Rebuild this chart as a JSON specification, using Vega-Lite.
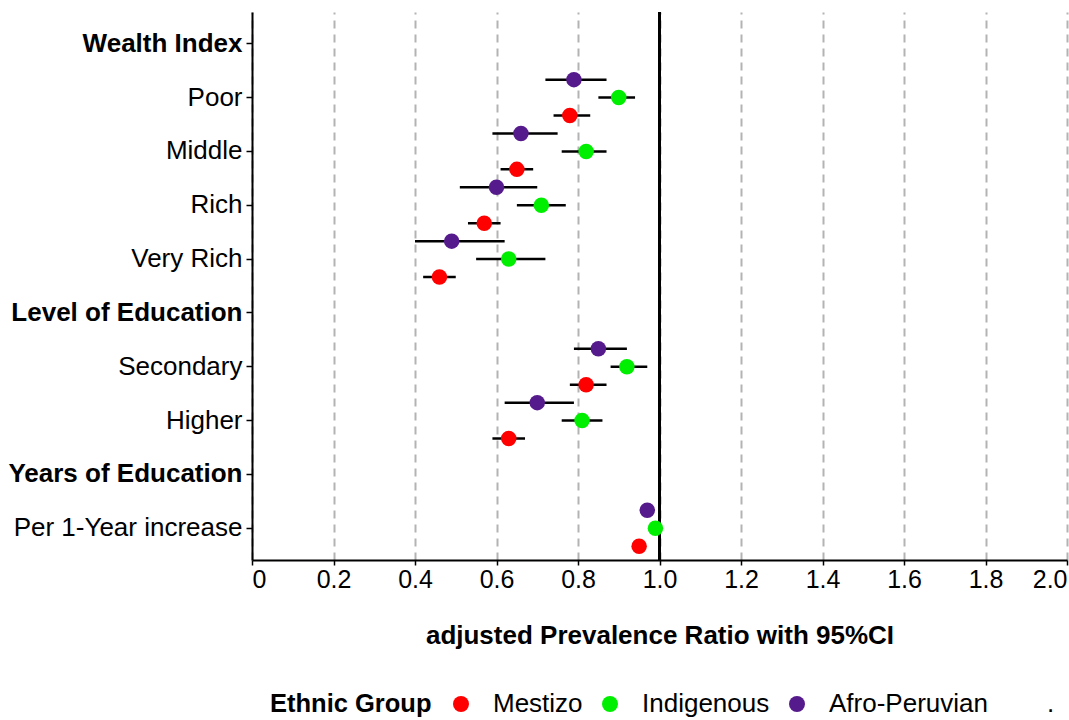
{
  "$schema": "https://vega.github.io/schema/vega-lite/v6.json",
  "width": 815,
  "height": 548,
  "autosize": {"type": "none"},
  "padding": {"left": 252, "top": 12, "right": 2, "bottom": 160},
  "background": "white",
  "config": {"view": {"stroke": null}, "font": "Liberation Sans"},
  "data": {"values": [
    {"var": "Poor", "group": "Afro-Peruvian", "pr": 0.79, "lo": 0.72, "hi": 0.87},
    {"var": "Poor", "group": "Indigenous", "pr": 0.90, "lo": 0.85, "hi": 0.94},
    {"var": "Poor", "group": "Mestizo", "pr": 0.78, "lo": 0.74, "hi": 0.83},
    {"var": "Middle", "group": "Afro-Peruvian", "pr": 0.66, "lo": 0.59, "hi": 0.75},
    {"var": "Middle", "group": "Indigenous", "pr": 0.82, "lo": 0.76, "hi": 0.87},
    {"var": "Middle", "group": "Mestizo", "pr": 0.65, "lo": 0.61, "hi": 0.69},
    {"var": "Rich", "group": "Afro-Peruvian", "pr": 0.60, "lo": 0.51, "hi": 0.70},
    {"var": "Rich", "group": "Indigenous", "pr": 0.71, "lo": 0.65, "hi": 0.77},
    {"var": "Rich", "group": "Mestizo", "pr": 0.57, "lo": 0.53, "hi": 0.61},
    {"var": "Very Rich", "group": "Afro-Peruvian", "pr": 0.49, "lo": 0.40, "hi": 0.62},
    {"var": "Very Rich", "group": "Indigenous", "pr": 0.63, "lo": 0.55, "hi": 0.72},
    {"var": "Very Rich", "group": "Mestizo", "pr": 0.46, "lo": 0.42, "hi": 0.50},
    {"var": "Secondary", "group": "Afro-Peruvian", "pr": 0.85, "lo": 0.79, "hi": 0.92},
    {"var": "Secondary", "group": "Indigenous", "pr": 0.92, "lo": 0.88, "hi": 0.97},
    {"var": "Secondary", "group": "Mestizo", "pr": 0.82, "lo": 0.78, "hi": 0.87},
    {"var": "Higher", "group": "Afro-Peruvian", "pr": 0.70, "lo": 0.62, "hi": 0.79},
    {"var": "Higher", "group": "Indigenous", "pr": 0.81, "lo": 0.76, "hi": 0.86},
    {"var": "Higher", "group": "Mestizo", "pr": 0.63, "lo": 0.59, "hi": 0.67},
    {"var": "Per 1-Year increase", "group": "Afro-Peruvian", "pr": 0.97, "lo": 0.96, "hi": 0.98},
    {"var": "Per 1-Year increase", "group": "Indigenous", "pr": 0.99, "lo": 0.98, "hi": 1.00},
    {"var": "Per 1-Year increase", "group": "Mestizo", "pr": 0.95, "lo": 0.94, "hi": 0.96}
  ]},
  "layer": [
    {
      "mark": {"type": "rule", "color": "black", "strokeWidth": 2},
      "encoding": {
        "x": {"datum": 1, "type": "quantitative", "title": "adjusted Prevalence Ratio with 95%CI"}
      }
    },
    {
      "mark": {"type": "rule", "color": "black", "strokeWidth": 2.5},
      "encoding": {
        "x": {"field": "lo", "type": "quantitative", "title": "adjusted Prevalence Ratio with 95%CI"},
        "x2": {"field": "hi"},
        "y": {"field": "var", "type": "nominal", "title": null},
        "yOffset": {"field": "group", "type": "nominal", "scale": {"domain": ["Afro-Peruvian", "Indigenous", "Mestizo"]}}
      }
    },
    {
      "mark": {"type": "point", "filled": true, "opacity": 1, "size": 240, "shape": "circle"},
      "encoding": {
        "x": {
          "field": "pr", "type": "quantitative",
          "title": "adjusted Prevalence Ratio with 95%CI",
          "scale": {"domain": [0, 2], "nice": false, "zero": false},
          "axis": {
            "values": [0, 0.2, 0.4, 0.6, 0.8, 1.0, 1.2, 1.4, 1.6, 1.8, 2.0],
            "labelExpr": "datum.value == 0 ? '0' : format(datum.value, '.1f')",
            "grid": true, "gridDash": [8, 6], "gridColor": "#b3b3b3", "gridWidth": 2,
            "domainColor": "black", "domainWidth": 2,
            "tickColor": "black", "tickWidth": 1.5, "tickSize": 5,
            "labelFontSize": 25, "labelColor": "black", "labelPadding": 2,
            "titleFontSize": 26, "titleFontWeight": "bold", "titleColor": "black", "titlePadding": 30
          }
        },
        "y": {
          "field": "var", "type": "nominal", "title": null,
          "scale": {
            "domain": ["Wealth Index", "Poor", "Middle", "Rich", "Very Rich", "Level of Education", "Secondary", "Higher", "Years of Education", "Per 1-Year increase"],
            "paddingInner": 0, "paddingOuter": 0.09
          },
          "axis": {
            "domainColor": "black", "domainWidth": 2,
            "tickColor": "black", "tickWidth": 1.5, "tickSize": 6,
            "labelFontSize": 26, "labelColor": "black", "labelPadding": 4, "labelLimit": 400,
            "labelFontWeight": {"condition": {"test": "indexof(['Wealth Index','Level of Education','Years of Education'], datum.value) >= 0", "value": "bold"}, "value": "normal"},
            "grid": false
          }
        },
        "yOffset": {"field": "group", "type": "nominal", "scale": {"domain": ["Afro-Peruvian", "Indigenous", "Mestizo"]}},
        "color": {
          "field": "group", "type": "nominal",
          "scale": {"domain": ["Mestizo", "Indigenous", "Afro-Peruvian", "."], "range": ["#FF0000", "#00EE00", "#551A8B", "#FFFFFF"]},
          "legend": {
            "orient": "none", "legendX": 18, "legendY": 679, "direction": "horizontal",
            "title": "Ethnic Group", "titleOrient": "left",
            "titleFontSize": 25.5, "titleFontWeight": "bold", "titleColor": "black", "titlePadding": 16,
            "labelFontSize": 26, "labelColor": "black", "labelOffset": 19,
            "symbolSize": 255, "symbolType": "circle", "columnPadding": 14
          }
        }
      }
    }
  ]
}
